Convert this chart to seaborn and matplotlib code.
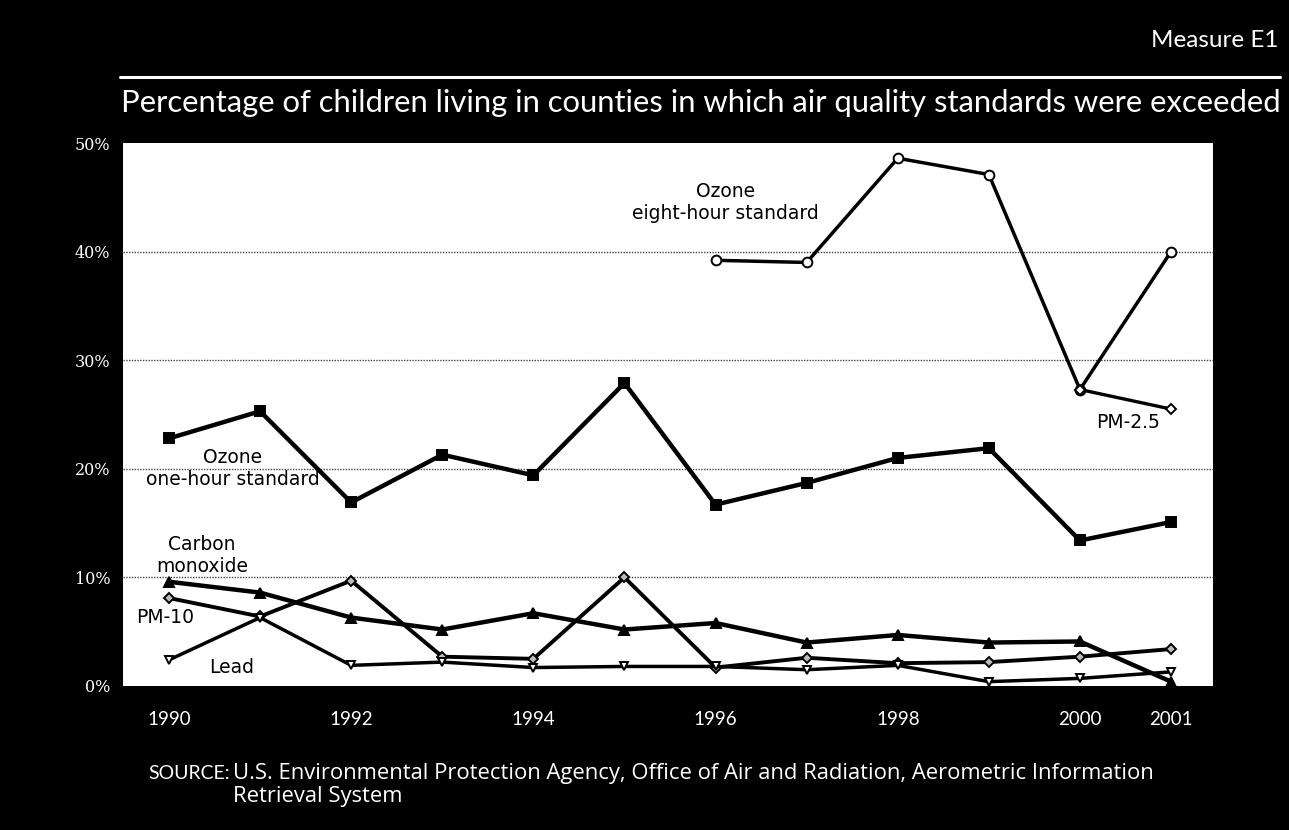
import pandas as pd
import matplotlib
matplotlib.use("Agg")
import matplotlib.pyplot as plt
import seaborn as sns

# values (percent)
years = list(range(1990, 2002))
ozone_1hr = [22.8, 25.3, 16.9, 21.3, 19.4, 27.9, 16.7, 18.7, 21.0, 21.9, 13.4, 15.1]
ozone_8hr_years = [1996, 1997, 1998, 1999, 2000, 2001]
ozone_8hr = [39.2, 39.0, 48.6, 47.1, 27.3, 40.0]
pm25_years = [2000, 2001]
pm25 = [27.3, 25.5]
carbon_monoxide = [9.6, 8.6, 6.3, 5.2, 6.7, 5.2, 5.8, 4.0, 4.7, 4.0, 4.1, 0.4]
pm10 = [8.1, 6.4, 9.7, 2.7, 2.5, 10.0, 1.7, 2.6, 2.1, 2.2, 2.7, 3.4]
lead = [2.4, 6.3, 1.9, 2.2, 1.7, 1.8, 1.8, 1.5, 1.9, 0.4, 0.7, 1.3]

xticks = [1990, 1992, 1994, 1996, 1998, 2000, 2001]
yticks = [0, 10, 20, 30, 40, 50]

frames = [
    pd.DataFrame({"year": years, "pct": ozone_1hr, "series": "ozone_1hr"}),
    pd.DataFrame({"year": ozone_8hr_years, "pct": ozone_8hr, "series": "ozone_8hr"}),
    pd.DataFrame({"year": pm25_years, "pct": pm25, "series": "pm25"}),
    pd.DataFrame({"year": years, "pct": carbon_monoxide, "series": "co"}),
    pd.DataFrame({"year": years, "pct": pm10, "series": "pm10"}),
    pd.DataFrame({"year": years, "pct": lead, "series": "lead"}),
]
data = pd.concat(frames, ignore_index=True)

# per series style: marker, face colour, line width, marker size
styles = {
    "ozone_1hr": ("s", "black", 3.2, 7),
    "ozone_8hr": ("o", "white", 2.5, 7),
    "pm25": ("D", "white", 2.4, 5.5),
    "co": ("^", "black", 3.2, 6.5),
    "pm10": ("D", "#bbbbbb", 2.8, 5.5),
    "lead": ("v", "white", 2.5, 6),
}

sns.set_style("white")
plt.rcParams["font.family"] = ["Lato", "DejaVu Sans"]

fig = plt.figure(figsize=(12.89, 8.3), dpi=100, facecolor="black")
ax = fig.add_axes([0.0954, 0.1735, 0.8456, 0.6542])
ax.set_facecolor("white")

for name, (mk, face, lw, ms) in styles.items():
    sns.lineplot(data=data[data["series"] == name], x="year", y="pct",
                 color="black", linewidth=lw, marker=mk, markersize=ms,
                 markerfacecolor=face, markeredgecolor="black",
                 markeredgewidth=1.4, ax=ax, legend=False)

ax.set_xlim(1989.495, 2001.46)
ax.set_ylim(0, 50)
ax.set_xticks(xticks)
ax.set_xticklabels([str(y) for y in xticks])
ax.set_yticks(yticks)
ax.set_yticklabels([f"{v}%" for v in yticks])
ax.set_xlabel("")
ax.set_ylabel("")
for t in [10, 20, 30, 40]:
    ax.axhline(t, color="#444444", linewidth=1.0, linestyle=(0, (1, 1)), zorder=0)
for s in ax.spines.values():
    s.set_visible(False)
ax.tick_params(axis="both", length=0, colors="white", labelsize=13.5)
ax.tick_params(axis="x", pad=18)
ax.tick_params(axis="y", pad=9)
for lab in ax.get_yticklabels():
    lab.set_family(["DejaVu Serif"])
    lab.set_fontsize(11.5)

# series labels inside the plot
lab_kw = dict(fontsize=13.5, color="black", family=["DejaVu Sans"],
              ha="center", va="center", linespacing=1.2)
ax.text(1996.11, 44.5, "Ozone\neight-hour standard", **lab_kw)
ax.text(2000.53, 24.3, "PM-2.5", **lab_kw)
ax.text(1990.70, 20.0, "Ozone\none-hour standard", **lab_kw)
ax.text(1990.36, 12.0, "Carbon\nmonoxide", **lab_kw)
ax.text(1989.96, 6.35, "PM-10", **lab_kw)
ax.text(1990.69, 1.66, "Lead", **lab_kw)

# header
fig.text(0.992, 0.951, "Measure E1", color="white", ha="right", va="center",
         fontsize=17.5)
fig.add_artist(plt.Line2D([0.093, 0.993], [0.907, 0.907], color="white",
                          linewidth=2.2, transform=fig.transFigure))
fig.text(0.0935, 0.876,
         "Percentage of children living in counties in which air quality standards were exceeded",
         color="white", ha="left", va="center", fontsize=22.3)

# source note
src_kw = dict(color="white", ha="left", va="center",
              family=["Open Sans", "DejaVu Sans"])
fig.text(0.1148, 0.0685, "SOURCE:", fontsize=14, color="white", ha="left",
         va="center")
fig.text(0.181, 0.0685,
         "U.S. Environmental Protection Agency, Office of Air and Radiation, Aerometric Information",
         fontsize=15.8, **src_kw)
fig.text(0.181, 0.040, "Retrieval System", fontsize=15.8, **src_kw)

fig.savefig("out.png", dpi=100, facecolor="black")
